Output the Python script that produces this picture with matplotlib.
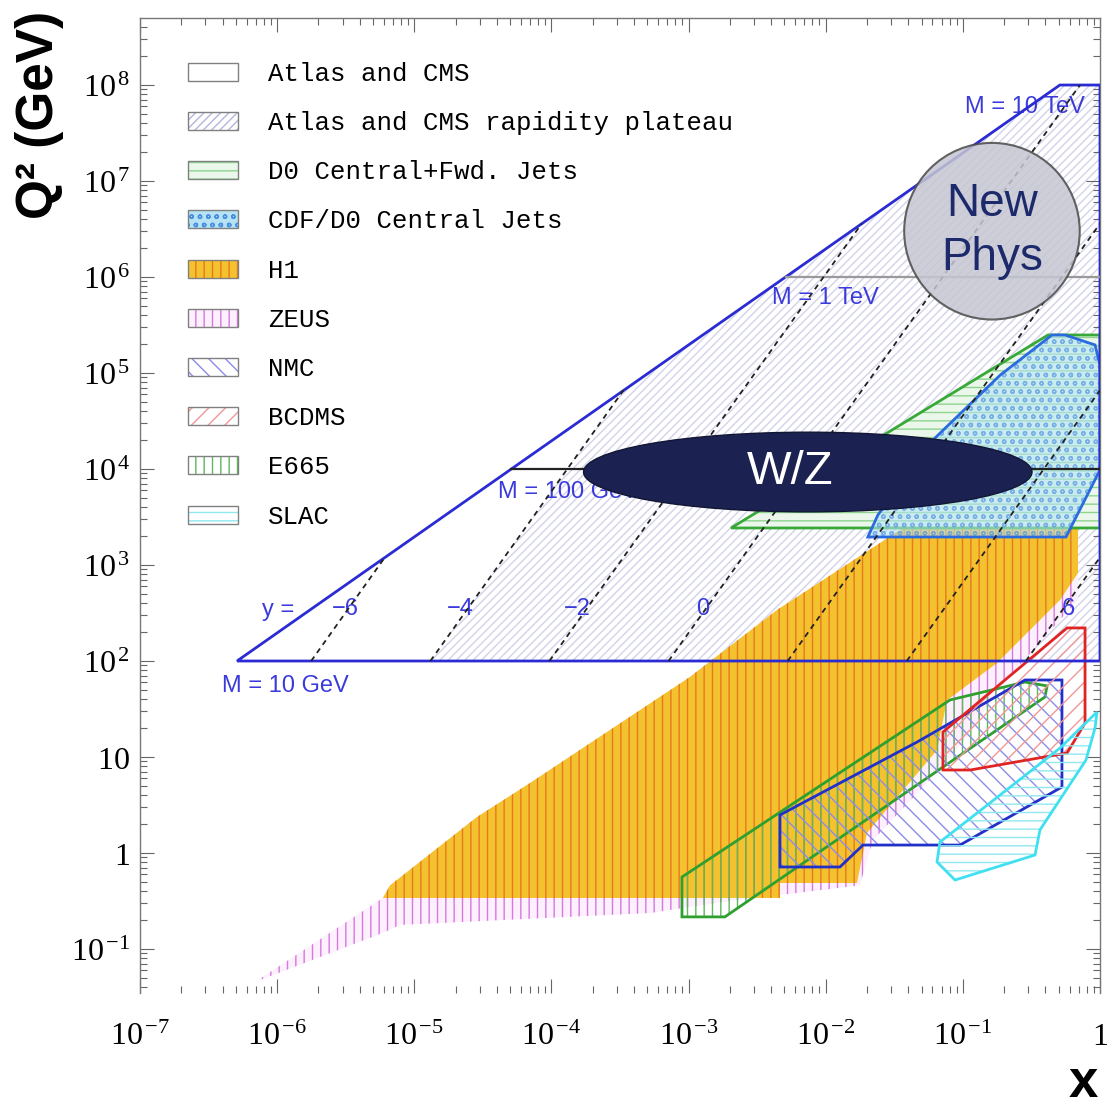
import numpy as np
import matplotlib
matplotlib.use("Agg")
import matplotlib.pyplot as plt
from matplotlib.patches import Polygon, Ellipse, Patch
from matplotlib.ticker import LogLocator, FuncFormatter, NullFormatter

plt.rcParams.update({
    "mathtext.fontset": "custom",
    "mathtext.rm": "Liberation Serif",
    "mathtext.it": "Liberation Serif:italic",
    "mathtext.bf": "Liberation Serif:bold",
    "hatch.linewidth": 1.0,
})

# ---- data (x, Q^2) ----
x_range = (1e-7, 1.0)
q_range = (0.0348, 4.99e8)

atlas_x = [5.1e-7, 0.51, 1.0, 1.0]
atlas_q = [1e2, 1e8, 1e8, 1e2]

plateau_x = [1.31e-5, 3.35e-4, 0.51, 1.0, 1.0]
plateau_q = [1e2, 6.6e4, 1e8, 1e8, 1e2]

# rapidity lines (from M = 10 GeV up to the kinematic edge)
rap = [-6, -4, -2, 0, 2, 4, 6]
rap_x_lo = [1.77e-6, 1.31e-5, 9.67e-5, 7.14e-4, 5.28e-3, 3.90e-2, 0.288]
rap_x_hi = [6.1e-6, 3.35e-4, 1.83e-2, 0.714, 1.0, 1.0, 1.0]
rap_q_hi = [1.2e3, 6.6e4, 3.6e6, 1.0e8, 3.6e6, 6.6e4, 1.2e3]

mass_q = [1e4, 1e6]
mass_x_lo = [5.1e-5, 5.1e-3]

h1_x = [5.9e-6, 6.65e-6, 2.86e-5, 6.98e-5, 1.02e-3, 4.41e-3, 0.0348, 0.248, 0.411,
        0.691, 0.691, 0.511, 0.177, 0.0766, 0.0648, 0.020, 0.0169, 4.64e-3, 4.64e-3]
h1_q = [0.34, 0.46, 2.37, 5.36, 68, 340, 2315, 1.86e4, 2.67e4,
        2.67e4, 826, 432, 95, 39, 11.8, 1.62, 0.487, 0.487, 0.34]

zeus_x = [6.9e-7, 5.9e-6, 1.02e-3, 4.41e-3, 0.0348, 0.248, 0.691, 0.691, 0.2,
          0.085, 0.022, 0.0177, 1.8e-3, 5.23e-4, 7.87e-6, 6.1e-6]
zeus_q = [0.0453, 0.34, 68, 340, 2315, 1.86e4, 2.67e4, 432, 60,
          10.5, 1.35, 0.46, 0.31, 0.237, 0.178, 0.150]

d0_x = [2.04e-3, 0.418, 1.0, 1.0]
d0_q = [2430, 2.49e5, 2.49e5, 2430]

cdf_x = [0.0203, 0.024, 0.0626, 0.187, 0.447, 0.556, 0.92, 1.0, 1.0, 0.565]
cdf_q = [1958, 3315, 2.1e4, 9.5e4, 2.49e5, 2.49e5, 1.96e5, 1.21e5, 9.77e3, 1958]

nmc_x = [4.64e-3, 4.64e-3, 0.0127, 0.0187, 0.0953, 0.528, 0.528, 0.284, 0.0463]
nmc_q = [2.49, 0.715, 0.715, 1.21, 1.21, 4.87, 63.4, 63.4, 14.3]

bcdms_x = [0.0716, 0.0716, 0.113, 0.575, 0.778, 0.778, 0.575]
bcdms_q = [18.2, 7.32, 7.32, 11.0, 22.6, 221, 221]

e665_x = [8.95e-4, 8.95e-4, 1.84e-3, 0.397, 0.411, 0.284, 0.0806]
e665_q = [0.562, 0.216, 0.216, 42.2, 55, 60.4, 39.3]

slac_x = [0.95, 0.92, 0.79, 0.365, 0.336, 0.0877, 0.0648, 0.068, 0.187, 0.511]
slac_q = [29.4, 20, 9.3, 1.74, 0.953, 0.523, 0.806, 1.30, 4.02, 12.4]

wz_center = (7.4e-3, 9.3e3)
wz_size = (3.27, 0.83)          # decades
np_center = (0.163, 3.0e6)
np_size = (1.28, 1.84)          # decades

legend_labels = ["Atlas and CMS", "Atlas and CMS rapidity plateau",
                 "D0 Central+Fwd. Jets", "CDF/D0 Central Jets", "H1", "ZEUS",
                 "NMC", "BCDMS", "E665", "SLAC"]

# ---- styles ----
blue = "#2b2bd4"
lblue = "#3b3bdc"
styles = {
    "atlas": dict(face="white", hatch=None, hc="#888888"),
    "plateau": dict(face="none", hatch="////", hc="#d2d2ea"),
    "d0": dict(face="#eaf7ea", hatch="--", hc="#8fd48f", edge="#38a838"),
    "cdf": dict(face="#b5e3f3", hatch="oo", hc="#4a8fe0", edge="#2a6be0"),
    "h1": dict(face="#f4c22e", hatch="||", hc="#e8781e", edge=None),
    "zeus": dict(face="#fcf0fc", hatch="||", hc="#d678e0", edge=None),
    "nmc": dict(face="none", hatch="\\\\", hc="#8c8ce8", edge="#2030c8"),
    "bcdms": dict(face="none", hatch="//", hc="#f09898", edge="#e02424"),
    "e665": dict(face="none", hatch="||", hc="#5cb85c", edge="#2f9f2f"),
    "slac": dict(face="none", hatch="--", hc="#90e8f0", edge="#40e0f0"),
}

fig = plt.figure(figsize=(11.12, 11.11), dpi=100)
ax = fig.add_axes([140 / 1112, 118 / 1111, 960 / 1112, 975 / 1111])
ax.set_xscale("log")
ax.set_yscale("log")
ax.set_xlim(*x_range)
ax.set_ylim(*q_range)


def region(xs, qs, st, z, alpha=1.0, lw=2.0):
    pts = np.column_stack([xs, qs])
    ax.add_patch(Polygon(pts, closed=True, facecolor=st["face"], hatch=st["hatch"],
                         edgecolor=st["hc"], linewidth=0, zorder=z, alpha=alpha))
    if st.get("edge"):
        ax.add_patch(Polygon(pts, closed=True, fill=False, edgecolor=st["edge"],
                             linewidth=lw, zorder=z + 0.01))


region(plateau_x, plateau_q, styles["plateau"], 1)
region(zeus_x, zeus_q, styles["zeus"], 2)
region(h1_x, h1_q, styles["h1"], 2.1)
region(d0_x, d0_q, styles["d0"], 2.2)
region(cdf_x, cdf_q, styles["cdf"], 2.3, alpha=0.6)
region(e665_x, e665_q, styles["e665"], 2.5)
region(nmc_x, nmc_q, styles["nmc"], 2.6)
region(bcdms_x, bcdms_q, styles["bcdms"], 2.7)
region(slac_x, slac_q, styles["slac"], 2.8)

# Atlas/CMS outline
ax.add_patch(Polygon(np.column_stack([atlas_x, atlas_q]), closed=True, fill=False,
                     edgecolor=blue, linewidth=2.0, zorder=4))
ax.plot([mass_x_lo[0], 1.0], [mass_q[0]] * 2, color="#222222", lw=1.6, zorder=4)
ax.plot([mass_x_lo[1], 1.0], [mass_q[1]] * 2, color="#9a9a9a", lw=1.6, zorder=4)

for i in range(len(rap)):
    ax.plot([rap_x_lo[i], rap_x_hi[i]], [1e2, rap_q_hi[i]], color="#222222",
            lw=1.3, ls=(0, (3, 2.5)), zorder=4)

# labels on the Atlas region
tkw = dict(color=lblue, fontsize=17, family="Liberation Sans", zorder=3.5)
ax.text(3.96e-7, 55, "M = 10 GeV", ha="left", va="center", **tkw)
ax.text(4.07e-5, 5750, "M = 100 GeV", ha="left", va="center", **tkw)
ax.text(4.06e-3, 6.04e5, "M = 1 TeV", ha="left", va="center", **tkw)
ax.text(0.104, 5.9e7, "M = 10 TeV", ha="left", va="center", **tkw)
ax.text(7.76e-7, 340, "y =", ha="left", va="center", **tkw)
rap_label_x = [3.13e-6, 2.15e-5, 1.54e-4, 1.27e-3, 0.585]
rap_label_t = ["\u22126", "\u22124", "\u22122", "0", "6"]
for xl, tl in zip(rap_label_x, rap_label_t):
    ax.text(xl, 345, tl, ha="center", va="center", **tkw)

# W/Z and New Phys blobs, placed in log coordinates
logtr = ax.transLimits + ax.transAxes
ax.add_patch(Ellipse((np.log10(wz_center[0]), np.log10(wz_center[1])), wz_size[0],
                     wz_size[1], transform=logtr, facecolor="#1b2150",
                     edgecolor="#111633", lw=1, zorder=5))
ax.text(5.5e-3, wz_center[1], "W/Z", color="white", fontsize=34,
        family="Liberation Sans", ha="center", va="center", zorder=6)
ax.add_patch(Ellipse((np.log10(np_center[0]), np.log10(np_center[1])), np_size[0],
                     np_size[1], transform=logtr, facecolor="#c6c6d2",
                     edgecolor="#4a4a4a", lw=1.5, alpha=0.85, zorder=5))
ax.text(np_center[0], np_center[1], "New\nPhys", color="#1c2a6c", fontsize=33,
        family="Liberation Sans", ha="center", va="center", linespacing=1.3,
        zorder=6)

# legend
handles = []
for key in ["atlas", "plateau", "d0", "cdf", "h1", "zeus", "nmc", "bcdms", "e665", "slac"]:
    st = styles[key]
    hc = "#b4b4dc" if key == "plateau" else st["hc"]
    handles.append((Patch(facecolor=st["face"] if st["face"] != "none" else "white",
                          hatch=st["hatch"], edgecolor=hc, linewidth=0),
                    Patch(fill=False, edgecolor="#808080", linewidth=1)))
ax.legend(handles, legend_labels, loc="upper left", bbox_to_anchor=(0.05, 0.955),
          frameon=False, borderpad=0, borderaxespad=0, handlelength=1.95,
          handleheight=0.7, handletextpad=1.17, labelspacing=0.98,
          prop={"family": "Liberation Mono", "size": 18.5})

# axes styling
for side in ["left", "top", "right"]:
    ax.spines[side].set_color("#777777")
    ax.spines[side].set_linewidth(1.0)
ax.spines["bottom"].set_visible(False)

for axis in (ax.xaxis, ax.yaxis):
    axis.set_major_locator(LogLocator(base=10, numticks=100))
    axis.set_minor_locator(LogLocator(base=10, subs=np.arange(2, 10) * 1.0, numticks=100))
    axis.set_minor_formatter(NullFormatter())


def make_fmt(lo, hi):
    def fmt(v, pos):
        if v < lo * 0.999 or v > hi * 1.001:
            return ""
        e = int(round(np.log10(v)))
        if e == 0:
            return r"$\mathrm{1}$"
        if e == 1:
            return r"$\mathrm{10}$"
        return r"$\mathrm{10}^{\,\mathrm{%d}}$" % e
    return fmt


ax.xaxis.set_major_formatter(FuncFormatter(make_fmt(*x_range)))
ax.yaxis.set_major_formatter(FuncFormatter(make_fmt(*q_range)))
ax.tick_params(which="both", direction="in", top=True, right=True, color="#666666",
               width=0.8, labelsize=23)
ax.tick_params(which="major", length=10)
ax.tick_params(which="minor", length=5)
ax.tick_params(axis="y", pad=7)
ax.tick_params(axis="x", pad=20)

fig.text(40 / 1112, 1 - 115 / 1111, "Q\u00b2 (GeV)", rotation=90, fontsize=37,
         fontweight="bold", family="Liberation Sans", ha="center", va="center")
fig.text(1083 / 1112, 1 - 1108 / 1111, "x", fontsize=38, fontweight="bold",
         family="Liberation Sans", ha="center", va="bottom")

fig.savefig("out.png", dpi=100)
